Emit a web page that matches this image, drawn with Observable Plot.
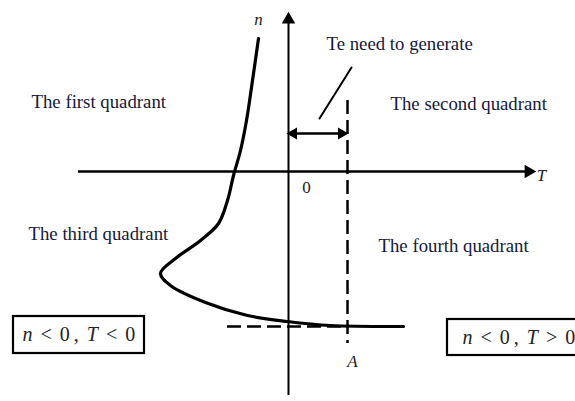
<!DOCTYPE html>
<html><head><meta charset="utf-8">
<script src="https://cdn.jsdelivr.net/npm/d3@7"></script>
<script src="https://cdn.jsdelivr.net/npm/@observablehq/plot@0.6"></script>
<style>body{margin:0;background:#fff}</style>
</head><body><div id="chart"></div>
<script>
// Curve n(T) (diagram units: T right, n up, origin at axis crossing)
const curveT = [-30, -36, -42, -48, -55, -61, -70, -88, -113, -128, -118, -83, -41, -1, 42, 115];
const curveN = [133, 91, 51, 21, -4, -29, -52, -69, -87, -102, -114, -131, -144, -150, -154, -155];

const TA = 59;          // operating point A on T axis
const nA = -155;        // speed at A
const arrowN = 38;      // Te double-arrow level
const slantT = [31, 63], slantN = [53, 104];

const labels = ["The first quadrant", "The second quadrant", "The third quadrant", "The fourth quadrant", "Te need to generate"];
const labelT = [-257, 102, -260, 90, 38];
const labelN = [70, 68, -62, -74, 128];

const axisNames = ["n", "T", "A"];
const axisNameT = [-30, 253, 64];
const axisNameN = [152, -4, -190];

const boxText = ["n < 0 , T < 0", "n < 0 , T > 0"];
const boxT1 = [-275, 159], boxT2 = [-144, 300];
const boxN1 = [-145, -148], boxN2 = [-182, -184];
const boxTextT = [-266, 174], boxTextN = [-163, -166];

const curve = curveT.map((t, i) => ({T: t, n: curveN[i]}));
const boxes = boxText.map((s, i) => ({s, x1: boxT1[i], x2: boxT2[i], y1: boxN1[i], y2: boxN2[i], tx: boxTextT[i], ty: boxTextN[i]}));

const serif = "Liberation Serif, Times New Roman, serif";
const ink = "#15183a";

const chart = Plot.plot({
  width: 575, height: 401,
  margin: 0,
  x: {domain: [-288, 287], axis: null},
  y: {domain: [-230, 171], axis: null},
  marks: [
    // axes
    Plot.ruleY([0], {x1: -210, x2: 238, stroke: "#000", strokeWidth: 2.5}),
    Plot.ruleX([0], {y1: -224, y2: 150, stroke: "#000", strokeWidth: 2}),
    Plot.dot([{T: 240, n: 0}], {x: "T", y: "n", symbol: "triangle", rotate: 90, r: 5, fill: "#000"}),
    Plot.dot([{T: 0, n: 152}], {x: "T", y: "n", symbol: "triangle", rotate: 0, r: 5, fill: "#000"}),
    // dashed guides
    Plot.ruleX([TA], {y1: 71, y2: -172, stroke: "#000", strokeWidth: 2.5, strokeDasharray: "14,6"}),
    Plot.ruleY([nA], {x1: -61, x2: TA, stroke: "#000", strokeWidth: 2.5, strokeDasharray: "14,6"}),
    // double arrow Te
    Plot.ruleY([arrowN], {x1: 3, x2: TA - 3, stroke: "#000", strokeWidth: 2.5}),
    Plot.dot([{T: 5, n: arrowN}], {x: "T", y: "n", symbol: "triangle", rotate: -90, r: 4.5, fill: "#000"}),
    Plot.dot([{T: TA - 6, n: arrowN}], {x: "T", y: "n", symbol: "triangle", rotate: 90, r: 4.5, fill: "#000"}),
    Plot.line(slantT.map((t, i) => ({T: t, n: slantN[i]})), {x: "T", y: "n", stroke: "#000", strokeWidth: 2}),
    // curve
    Plot.line(curve, {x: "T", y: "n", curve: "catmull-rom", stroke: "#000", strokeWidth: 3.2}),
    // labels
    Plot.text(labels, {x: (d, i) => labelT[i], y: (d, i) => labelN[i], text: d => d, textAnchor: "start", fontFamily: serif, fontSize: 18.8, fill: ink}),
    Plot.text(axisNames, {x: (d, i) => axisNameT[i], y: (d, i) => axisNameN[i], text: d => d, fontFamily: serif, fontStyle: "italic", fontSize: 17, fill: "#222"}),
    Plot.text(["0"], {x: 18, y: -16, text: d => d, fontFamily: serif, fontSize: 17, fill: "#222"}),
    // boxes
    Plot.rect(boxes, {x1: "x1", x2: "x2", y1: "y1", y2: "y2", fill: "none", stroke: "#000", strokeWidth: 2.2}),
    Plot.text(boxes, {x: "tx", y: "ty", text: "s", textAnchor: "start", fontFamily: serif, fontSize: 20, fill: "#222", className: "boxtext"})
  ]
});
// italicise the variable letters, keep operators upright, widen spacing like the original
d3.select(chart).selectAll(".boxtext text").each(function() {
  const s = this.textContent;
  const el = d3.select(this);
  el.text(null);
  s.split(" ").forEach((tok, j) => {
    el.append("tspan")
      .attr("dx", j === 0 ? 0 : (tok === "," ? 4 : 8))
      .style("font-style", /[A-Za-z]/.test(tok) ? "italic" : "normal")
      .text(tok);
  });
});
document.getElementById("chart").append(chart);
</script>
</body></html>
